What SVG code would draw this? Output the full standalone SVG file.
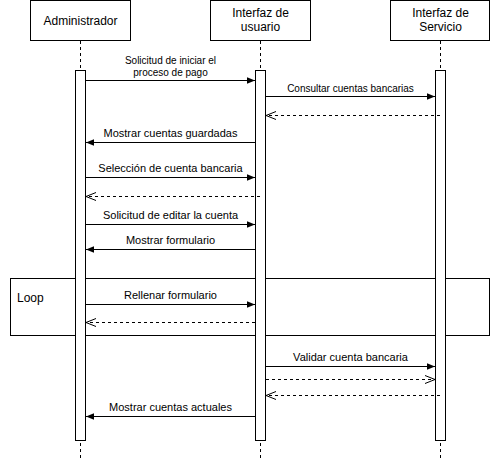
<svg xmlns="http://www.w3.org/2000/svg" width="491" height="461" viewBox="0 0 491 461">
  <style>
    .box { fill: #ffffff; stroke: #000000; stroke-width: 1; }
    .life { stroke: #000000; stroke-width: 1; stroke-dasharray: 3 3; fill: none; }
    .bar { fill: #ffffff; stroke: #000000; stroke-width: 1; }
    .msg { stroke: #000000; stroke-width: 1; fill: none; marker-end: url(#solid); }
    .ret { stroke: #000000; stroke-width: 1; stroke-dasharray: 3 3; fill: none; marker-end: url(#open); }
    .frame { fill: none; stroke: #000000; stroke-width: 1; }
    text { font-family: "Liberation Sans", Arial, Helvetica, sans-serif; fill: #000000; }
    .head { font-size: 12px; text-anchor: middle; }
    .lbl { font-size: 11px; text-anchor: middle; }
    .sm { font-size: 10px; text-anchor: middle; }
  </style>
  <defs>
    <marker id="solid" viewBox="0 0 10 10" refX="10" refY="5" markerWidth="8" markerHeight="8" markerUnits="userSpaceOnUse" orient="auto">
      <path d="M0,1 L10,5 L0,9 Z" fill="#000000"/>
    </marker>
    <marker id="open" viewBox="0 0 10 10" refX="10" refY="5" markerWidth="10" markerHeight="10" markerUnits="userSpaceOnUse" orient="auto">
      <path d="M0,1 L10,5 L0,9" fill="none" stroke="#000000" stroke-width="1"/>
    </marker>
  </defs>

  <!-- loop frame -->
  <g id="loop">
    <rect class="frame" x="10.5" y="278.5" width="479" height="57"/>
    <text x="17" y="302" font-size="12px">Loop</text>
  </g>

  <!-- participants -->
  <g id="administrador">
    <rect class="box" x="30.5" y="0.5" width="100" height="40"/>
    <text class="head" x="80.5" y="24.5">Administrador</text>
    <line class="life" x1="80.5" y1="41" x2="80.5" y2="461"/>
    <rect class="bar" x="75.5" y="70.5" width="10" height="370"/>
  </g>
  <g id="interfaz-usuario">
    <rect class="box" x="210.5" y="0.5" width="100" height="40"/>
    <text class="head" x="260.5" y="17">Interfaz de</text>
    <text class="head" x="260.5" y="31">usuario</text>
    <line class="life" x1="260.5" y1="41" x2="260.5" y2="461"/>
    <rect class="bar" x="255.5" y="70.5" width="10" height="370"/>
  </g>
  <g id="interfaz-servicio">
    <rect class="box" x="390.5" y="0.5" width="99" height="40"/>
    <text class="head" x="440.5" y="17">Interfaz de</text>
    <text class="head" x="440.5" y="31">Servicio</text>
    <line class="life" x1="440.5" y1="41" x2="440.5" y2="461"/>
    <rect class="bar" x="435.5" y="70.5" width="10" height="370"/>
  </g>

  <!-- messages -->
  <g id="connectors">
    <line class="msg" x1="86" y1="80.5" x2="255" y2="80.5"/>
    <text class="sm" x="170.5" y="63.5">Solicitud de iniciar el</text>
    <text class="sm" x="170.5" y="76">proceso de pago</text>

    <line class="msg" x1="266" y1="96.5" x2="435" y2="96.5"/>
    <text class="sm" x="350.5" y="91.5">Consultar cuentas bancarias</text>

    <line class="ret" x1="440" y1="115.5" x2="266" y2="115.5"/>

    <line class="msg" x1="255" y1="142.5" x2="86" y2="142.5"/>
    <text class="lbl" x="170.5" y="137">Mostrar cuentas guardadas</text>

    <line class="msg" x1="86" y1="177.5" x2="255" y2="177.5"/>
    <text class="lbl" x="170.5" y="172">Selección de cuenta bancaria</text>

    <line class="ret" x1="260" y1="196.5" x2="86" y2="196.5"/>

    <line class="msg" x1="86" y1="224.5" x2="255" y2="224.5"/>
    <text class="lbl" x="170.5" y="219">Solicitud de editar la cuenta</text>

    <line class="msg" x1="255" y1="249.5" x2="86" y2="249.5"/>
    <text class="lbl" x="170.5" y="244">Mostrar formulario</text>

    <line class="msg" x1="86" y1="304.5" x2="255" y2="304.5"/>
    <text class="lbl" x="170.5" y="299">Rellenar formulario</text>

    <line class="ret" x1="255" y1="322.5" x2="86" y2="322.5"/>

    <line class="msg" x1="266" y1="366.5" x2="435" y2="366.5"/>
    <text class="lbl" x="350.5" y="361">Validar cuenta bancaria</text>

    <line class="ret" x1="266" y1="379.5" x2="435" y2="379.5"/>

    <line class="ret" x1="440" y1="395.5" x2="266" y2="395.5"/>

    <line class="msg" x1="255" y1="416.5" x2="86" y2="416.5"/>
    <text class="lbl" x="170.5" y="411">Mostrar cuentas actuales</text>
  </g>
</svg>
